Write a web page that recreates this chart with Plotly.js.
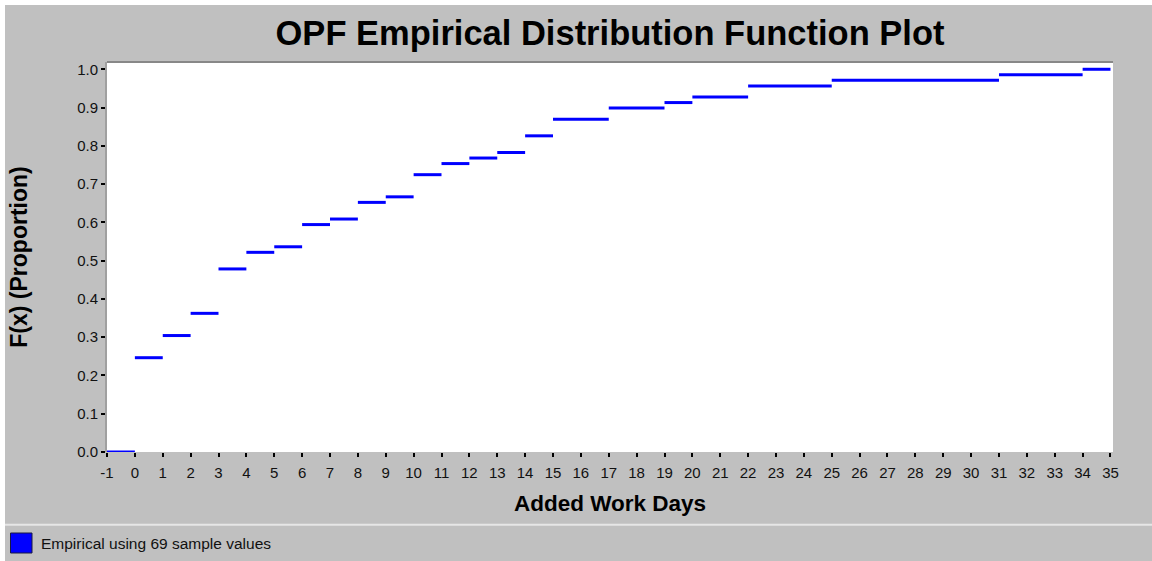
<!DOCTYPE html>
<html>
<head>
<meta charset="utf-8">
<script src="https://cdn.plot.ly/plotly-3.0.1.min.js"></script>
<style>
  html, body { margin: 0; padding: 0; background: #ffffff; }
  #chart { position: absolute; left: 5px; top: 5px; width: 1147px; height: 556px; }
</style>
</head>
<body>
<div id="chart"></div>
<script>
// Step data: each step spans [stepStart, stepEnd) at proportion stepValue
const stepStart = [-1, 0, 1, 2, 3, 4, 5, 6, 7, 8, 9, 10, 11, 12, 13, 14, 15, 17, 19, 20, 22, 25, 31, 34];
const stepEnd   = [ 0, 1, 2, 3, 4, 5, 6, 7, 8, 9, 10, 11, 12, 13, 14, 15, 17, 19, 20, 22, 25, 31, 34, 35];
const stepValue = [0.0, 0.2464, 0.3043, 0.3623, 0.4783, 0.5217, 0.5362, 0.5942, 0.6087, 0.6522,
                   0.6667, 0.7246, 0.7536, 0.7681, 0.7826, 0.8261, 0.8696, 0.8986, 0.9130, 0.9275,
                   0.9565, 0.9710, 0.9855, 1.0];
const xTicks = [];
for (let t = -1; t <= 35; t++) xTicks.push(t);
const yTicks = [0, 0.1, 0.2, 0.3, 0.4, 0.5, 0.6, 0.7, 0.8, 0.9, 1.0];

const xs = [], ys = [];
for (let i = 0; i < stepStart.length; i++) {
  xs.push(stepStart[i], stepEnd[i], null);
  ys.push(stepValue[i], stepValue[i], null);
}

const FONT = 'Liberation Sans, Arial, Helvetica, sans-serif';

// plot area in absolute px: left 107, right 1113, top 62, bottom 452 (div offset 5,5)
const L = 107, R = 1113, T = 62, B = 452;
const px = (ax) => (ax - L) / (R - L);
const py = (ay) => (B - ay) / (B - T);

const trace = {
  type: 'scatter', mode: 'lines', x: xs, y: ys,
  line: { color: '#0000FF', width: 3 },
  showlegend: false, hoverinfo: 'skip'
};

const layout = {
  width: 1147, height: 556,
  margin: { l: L - 5, r: 1152 - R, t: T - 5, b: 561 - B, pad: 0 },
  paper_bgcolor: '#C0C0C0',
  plot_bgcolor: '#FFFFFF',
  font: { family: FONT, color: '#111111', size: 15 },
  title: {
    text: '<b>OPF Empirical Distribution Function Plot</b>',
    font: { family: FONT, size: 34.5, color: '#000000' },
    x: 0.5, xref: 'paper', xanchor: 'center',
    y: 1 - (32.5 - 5) / 556, yref: 'container', yanchor: 'middle'
  },
  showlegend: false,
  xaxis: {
    range: [-1, 35.09],
    tickvals: xTicks,
    ticktext: xTicks.map(String),
    ticks: 'outside', ticklen: 4, tickwidth: 2, tickcolor: '#000000',
    ticklabelstandoff: 3,
    showgrid: false, zeroline: false, showline: false,
    tickfont: { family: FONT, size: 15, color: '#111111' },
    title: { text: '<b>Added Work Days</b>', font: { family: FONT, size: 22.5, color: '#000000' }, standoff: 15 },
    fixedrange: true
  },
  yaxis: {
    range: [0, 1.019],
    tickvals: yTicks,
    ticktext: yTicks.map(v => v.toFixed(1)),
    ticks: 'outside', ticklen: 4, tickwidth: 2, tickcolor: '#000000',
    showgrid: false, zeroline: false,
    showline: true, linecolor: '#A0A0A0', linewidth: 2,
    tickfont: { family: FONT, size: 15, color: '#111111' },
    title: { text: '<b>F(x) (Proportion)</b>', font: { family: FONT, size: 23, color: '#000000' }, standoff: 43 },
    fixedrange: true
  },
  shapes: [
    // top border of plot area
    { type: 'line', xref: 'paper', yref: 'paper', x0: 0, x1: 1, y0: 1, y1: 1,
      line: { color: '#888888', width: 2 } },
    // legend separator
    { type: 'line', xref: 'paper', yref: 'paper', x0: px(5), x1: px(1152), y0: py(524.7), y1: py(524.7),
      line: { color: '#E6E6E6', width: 2 } },
    // legend swatch
    { type: 'rect', xref: 'paper', yref: 'paper', x0: px(10.5), x1: px(32), y0: py(533), y1: py(553),
      fillcolor: '#0000FF', line: { color: '#1a1a40', width: 1 } }
  ],
  annotations: [
    { text: 'Empirical using 69 sample values', xref: 'paper', yref: 'paper',
      x: px(39), y: py(543), xanchor: 'left', yanchor: 'middle', showarrow: false,
      font: { family: FONT, size: 15.5, color: '#111111' } }
  ]
};

Plotly.newPlot('chart', [trace], layout, { displayModeBar: false, staticPlot: true });
</script>
</body>
</html>
